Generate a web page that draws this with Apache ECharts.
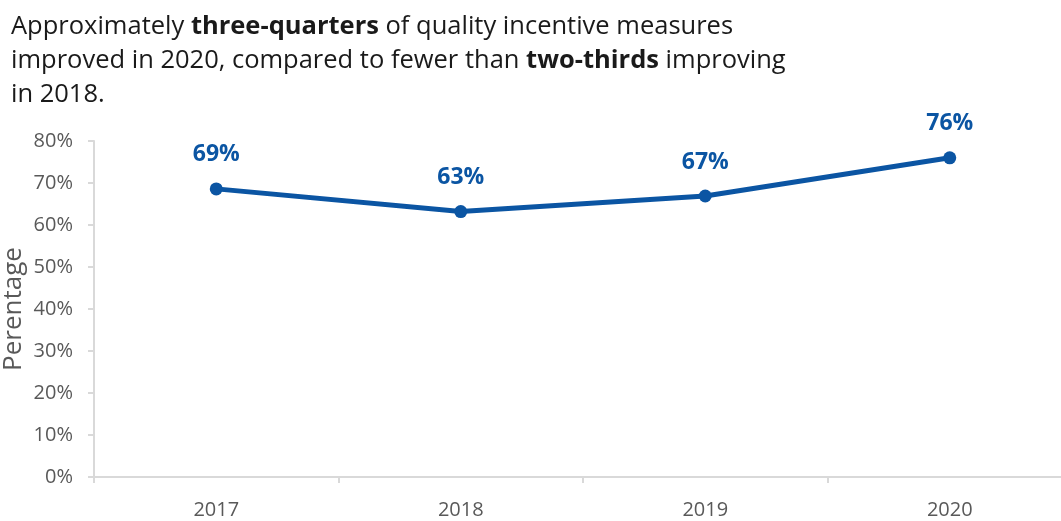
<!DOCTYPE html>
<html>
<head>
<meta charset="utf-8">
<script src="https://cdn.jsdelivr.net/npm/echarts@6/dist/echarts.min.js"></script>
<style>
  html, body { margin: 0; padding: 0; background: #fff; }
  #chart { width: 1061px; height: 521px; }
</style>
</head>
<body>
<div id="chart"></div>
<script>
const years = ['2017', '2018', '2019', '2020'];
const improvedPct = [68.6, 63.2, 66.9, 76.0];
const yTicks = [0, 10, 20, 30, 40, 50, 60, 70, 80];

const chart = echarts.init(document.getElementById('chart'));

const grey = '#595959';
const axisGrey = '#d9d9d9';
const blue = '#0b55a3';

chart.setOption({
    animation: false,
    textStyle: { fontFamily: 'Open Sans' },
    title: {
        left: 6,
        top: 5,
        text: '{n|Approximately }{b|three-quarters}{n| of quality incentive measures}\n' +
              '{n|improved in 2020, compared to fewer than }{b|two-thirds}{n| improving}\n' +
              '{n|in 2018.}',
        textStyle: {
            fontWeight: 'normal',
            rich: {
                n: { fontSize: 25.5, color: '#1a1a1a', fontFamily: 'Open Sans', fontWeight: 'normal', lineHeight: 34 },
                b: { fontSize: 25.5, color: '#1a1a1a', fontFamily: 'Open Sans', fontWeight: 'bold', lineHeight: 34 }
            }
        }
    },
    grid: {
        left: 94,
        top: 141,
        width: 978,
        height: 336,
        outerBoundsMode: 'none'
    },
    xAxis: {
        type: 'category',
        data: years,
        boundaryGap: true,
        axisLine: { lineStyle: { color: axisGrey, width: 2 } },
        axisTick: { show: true, length: 6, lineStyle: { color: axisGrey, width: 2 } },
        axisLabel: { color: grey, fontSize: 20, margin: 23 }
    },
    yAxis: {
        type: 'value',
        min: yTicks[0],
        max: yTicks[yTicks.length - 1],
        interval: 10,
        name: 'Perentage',
        nameLocation: 'middle',
        nameGap: 67,
        nameMoveOverlap: false,
        nameTextStyle: { color: grey, fontSize: 26 },
        axisLine: { show: true, lineStyle: { color: axisGrey, width: 2 } },
        axisTick: { show: true, length: 6, lineStyle: { color: axisGrey, width: 2 } },
        splitLine: { show: false },
        axisLabel: { color: grey, fontSize: 20, margin: 21, formatter: v => v + '%' }
    },
    series: [{
        type: 'line',
        data: improvedPct,
        symbol: 'circle',
        symbolSize: 13,
        lineStyle: { color: blue, width: 5 },
        itemStyle: { color: blue },
        label: {
            show: true,
            position: 'top',
            distance: 16,
            color: blue,
            fontSize: 23,
            fontWeight: 'bold',
            formatter: p => Math.round(p.value) + '%'
        }
    }]
});
</script>
</body>
</html>
